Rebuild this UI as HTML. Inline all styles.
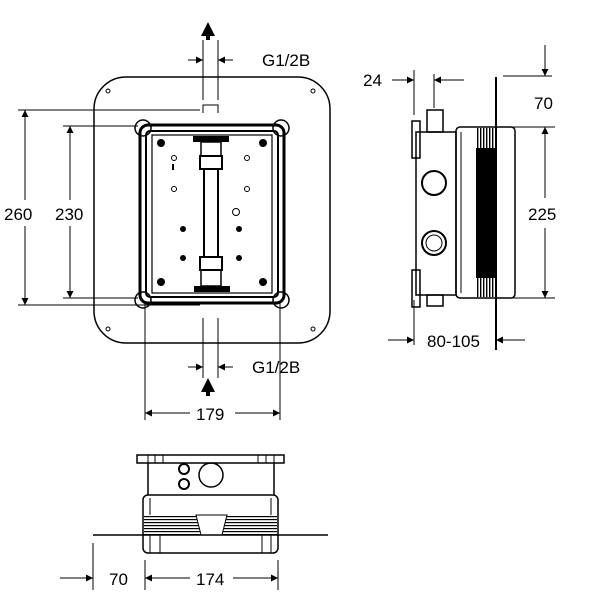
<!DOCTYPE html>
<html><head><meta charset="utf-8"><style>
html,body{margin:0;padding:0;background:#fff}
svg{display:block}
text{font-family:"Liberation Sans",sans-serif;font-size:17px;fill:#000}
</style></head><body>
<svg width="600" height="600" viewBox="0 0 600 600" xmlns="http://www.w3.org/2000/svg">
<defs>
<marker id="a" viewBox="0 0 10 10" refX="10" refY="5" markerWidth="10" markerHeight="7" orient="auto-start-reverse" markerUnits="userSpaceOnUse"><path d="M0,0L10,5L0,10Z" fill="#000"/></marker>
<pattern id="st" width="4" height="3" patternUnits="userSpaceOnUse"><rect width="4" height="3" fill="#fff"/><rect width="4" height="1.2" fill="#000"/></pattern>
<pattern id="vs" width="3" height="4" patternUnits="userSpaceOnUse"><rect width="3" height="4" fill="#fff"/><rect width="1.4" height="4" fill="#000"/></pattern>
</defs>
<g stroke="#000" fill="none" stroke-width="1">
<!-- FRONT VIEW -->
<rect x="94" y="77" width="236" height="266" rx="32" stroke-width="1.5"/>
<circle cx="108" cy="91" r="2"/><circle cx="313" cy="91" r="2"/><circle cx="108" cy="329" r="2"/><circle cx="313" cy="329" r="2"/>
<rect x="140" y="125" width="144" height="178" rx="8" stroke-width="3"/>
<rect x="146" y="131" width="132" height="166" rx="4" stroke-width="2"/>
<rect x="152" y="135" width="120" height="158" stroke-width="1.2"/>
<g stroke-width="1.5">
<circle cx="143" cy="128" r="8"/><circle cx="281" cy="128" r="8"/><circle cx="143" cy="300" r="8"/><circle cx="281" cy="300" r="8"/>
</g>
<g fill="#000" stroke="none">
<circle cx="161" cy="143" r="4"/><circle cx="263" cy="143" r="4"/><circle cx="161" cy="282" r="4"/><circle cx="263" cy="282" r="4"/>
<circle cx="183" cy="229" r="3"/><circle cx="239" cy="229" r="3"/><circle cx="183" cy="258" r="3"/><circle cx="239" cy="258" r="3"/>
<rect x="193" y="136" width="36" height="6"/><rect x="194" y="286" width="36" height="6"/>
<rect x="172" y="164" width="2" height="6"/>
</g>
<circle cx="174" cy="158" r="2.5"/><circle cx="247" cy="158" r="2.5"/><circle cx="174" cy="189" r="2.5"/><circle cx="247" cy="189" r="2.5"/><circle cx="236" cy="212" r="3.5"/>
<rect x="201" y="142" width="20" height="14" stroke-width="1.5"/>
<rect x="200" y="156" width="22" height="13" stroke-width="2"/>
<rect x="204" y="169" width="14" height="88" stroke-width="2"/>
<rect x="200" y="257" width="22" height="13" stroke-width="2"/>
<rect x="201" y="270" width="20" height="16" stroke-width="1.5"/>
<path d="M203,113V105H218V113"/>
<!-- G1/2B top -->
<path d="M203,40V100M218,40V100"/>
<path d="M188,60H203" marker-end="url(#a)"/><path d="M233,60H218" marker-end="url(#a)"/>
<path d="M203,318V378M218,318V378"/>
<path d="M188,367H203" marker-end="url(#a)"/><path d="M233,367H218" marker-end="url(#a)"/>
<!-- 260/230 -->
<path d="M18,110H200M18,305H200M63,126H138M63,298H138"/>
<path d="M25,200V110" marker-end="url(#a)"/><path d="M25,226V305" marker-end="url(#a)"/>
<path d="M70,200V126" marker-end="url(#a)"/><path d="M70,226V298" marker-end="url(#a)"/>
<!-- 179 -->
<path d="M145,302V420M280,302V420"/>
<path d="M190,413H145" marker-end="url(#a)"/><path d="M235,413H280" marker-end="url(#a)"/>

<!-- SIDE VIEW -->
<path d="M496,77V350" stroke-width="2"/>
<path d="M414,70V115M414,300V345M434,74V108"/>
<rect x="416" y="132" width="40" height="163" stroke-width="1.5"/>
<rect x="412" y="121" width="8" height="37" stroke-width="1.5"/>
<rect x="412" y="270" width="8" height="37" stroke-width="1.5"/>
<rect x="427" y="110" width="16" height="22" stroke-width="1.5"/>
<rect x="427" y="295" width="16" height="11" stroke-width="1.5"/>
<circle cx="434" cy="183" r="12" stroke-width="2"/>
<circle cx="434" cy="243" r="12" stroke-width="2"/><circle cx="434" cy="243" r="8"/>
<rect x="456" y="127" width="59" height="171" rx="4" stroke-width="1.5"/>
<path d="M461,132V293"/>
<rect x="476" y="128" width="20" height="169" fill="#000" stroke="none"/>
<rect x="476" y="128" width="20" height="20" fill="url(#vs)" stroke="none"/>
<rect x="476" y="278" width="20" height="19" fill="url(#vs)" stroke="none"/>
<path d="M392,80H414" marker-end="url(#a)"/><path d="M464,80H434" marker-end="url(#a)"/>
<path d="M503,76H552"/><path d="M545,45V76" marker-end="url(#a)"/>
<path d="M503,127H555M503,298H555"/>
<path d="M545,198V127" marker-end="url(#a)"/><path d="M545,228V298" marker-end="url(#a)"/>
<path d="M388,340H414" marker-end="url(#a)"/><path d="M525,340H496" marker-end="url(#a)"/>

<!-- BOTTOM VIEW -->
<rect x="137" y="455" width="147" height="8" stroke-width="1.5"/>
<path d="M148,455V463M155,455V463M163,455V463M258,455V463M266,455V463M274,455V463"/>
<path d="M148,463V495M274,463V495" stroke-width="1.5"/>
<circle cx="184" cy="469" r="5" stroke-width="2"/><circle cx="184" cy="484" r="5" stroke-width="2"/>
<circle cx="211" cy="475" r="12" stroke-width="1.5"/>
<rect x="143" y="495" width="135" height="58" rx="5" stroke-width="1.5"/>
<path d="M150,498V553M271,498V553M160,515V553M262,515V553"/>
<rect x="144" y="515" width="133" height="20" fill="url(#st)" stroke="none"/>
<path d="M196,515L201,535H222L227,515Z" fill="#fff"/>
<path d="M93,535H328" stroke-width="1.5"/>
<path d="M93,543V590M145,560V590M278,560V590"/>
<path d="M60,578H93" marker-end="url(#a)"/>
<path d="M190,578H145" marker-end="url(#a)"/><path d="M233,578H278" marker-end="url(#a)"/>
</g>
<!-- arrows -->
<path d="M201,36L208,22L215,36Z" fill="#000"/><rect x="206" y="36" width="4" height="4" fill="#000"/>
<path d="M201,392L208,378L215,392Z" fill="#000"/><rect x="206" y="392" width="4" height="4" fill="#000"/>
<!-- texts -->
<text x="262" y="66">G1/2B</text>
<text x="252" y="373">G1/2B</text>
<text x="4" y="220">260</text>
<text x="55" y="220">230</text>
<text x="196" y="420">179</text>
<text x="363" y="86">24</text>
<text x="534" y="109">70</text>
<text x="528" y="220">225</text>
<text x="427" y="347">80-105</text>
<text x="109" y="585">70</text>
<text x="196" y="585">174</text>
</svg>
</body></html>
